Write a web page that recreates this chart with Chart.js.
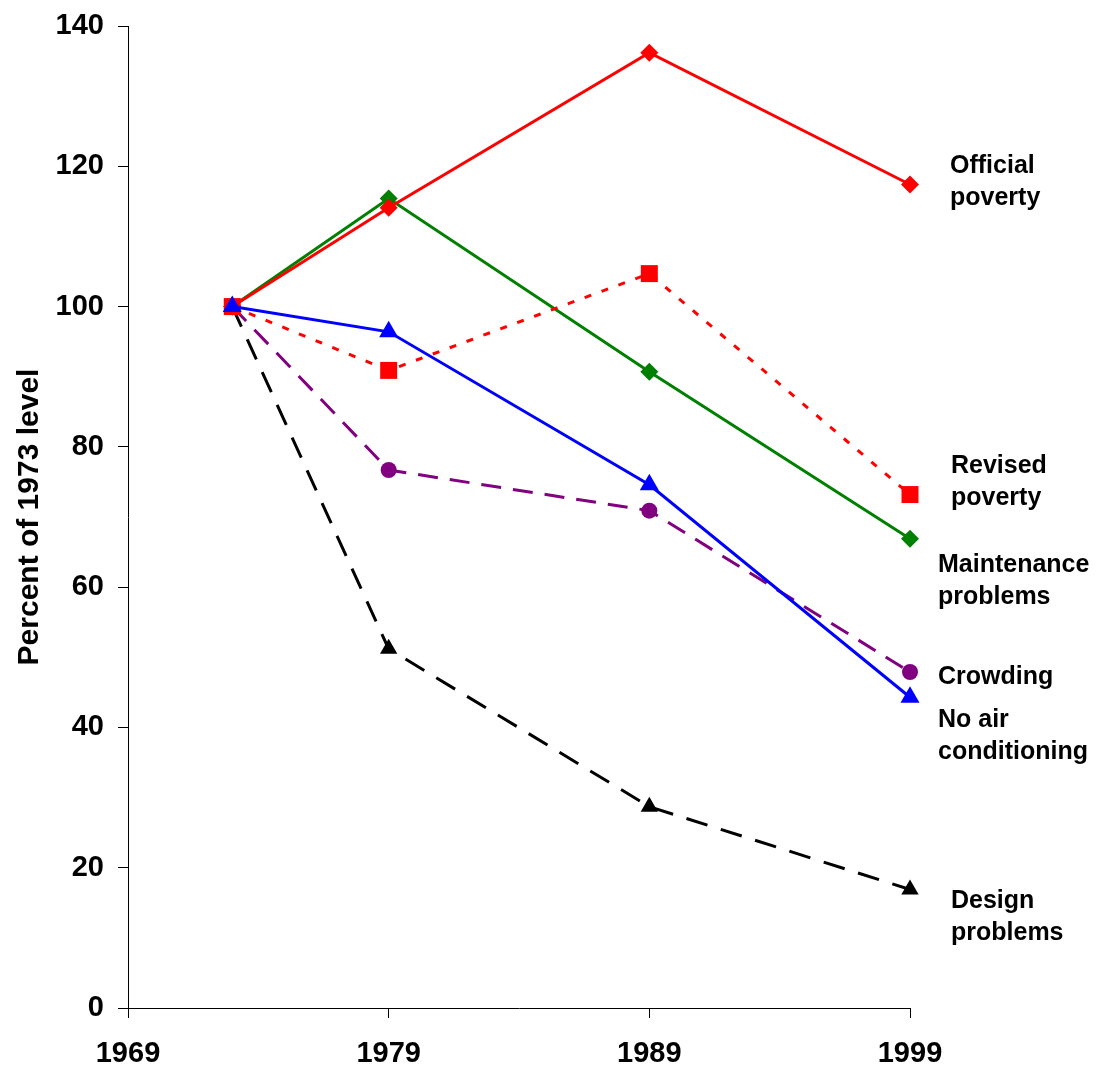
<!DOCTYPE html>
<html>
<head>
<meta charset="utf-8">
<script src="https://cdn.jsdelivr.net/npm/chart.js@4/dist/chart.umd.min.js"></script>
<style>
  html, body { margin: 0; padding: 0; background: #fff; }
  #wrap { width: 1097px; height: 1069px; position: relative; }
</style>
</head>
<body>
<div id="wrap"><canvas id="chart"></canvas></div>
<script>
const years = [1973, 1979, 1989, 1999];
const xTicks = [1969, 1979, 1989, 1999];

const officialPoverty = [100, 114.1, 136.2, 117.4];
const revisedPoverty = [100, 90.9, 104.7, 73.2];
const maintenance = [100, 115.4, 90.7, 66.9];
const crowding = [100, 76.7, 70.9, 47.9];
const noAirCond = [100, 96.4, 74.6, 44.3];
const designProblems = [100, 51.2, 28.7, 16.9];

const seriesLabels = {
  official: ["Official", "poverty"],
  revised: ["Revised", "poverty"],
  maintenance: ["Maintenance", "problems"],
  crowding: ["Crowding"],
  noAir: ["No air", "conditioning"],
  design: ["Design", "problems"],
};

const FONT = "'Liberation Sans', Arial, sans-serif";

function pts(values) {
  return values.map((v, i) => ({ x: years[i], y: v }));
}

// text next to the last point of each series: [key, datasetIndex, dx, dy]
const labelPlacement = [
  ["noAir", 0, 28, 39],
  ["official", 1, 40, -2],
  ["revised", 2, 41, -12],
  ["maintenance", 3, 28, 42],
  ["crowding", 4, 28, 5],
  ["design", 5, 41, 28],
];

const endLabels = {
  id: "endLabels",
  afterDatasetsDraw(chart) {
    const ctx = chart.ctx;
    ctx.save();
    ctx.fillStyle = "#000";
    ctx.font = `bold 25px ${FONT}`;
    ctx.textAlign = "left";
    ctx.textBaseline = "middle";
    labelPlacement.forEach(([key, di, dx, dy]) => {
      const meta = chart.getDatasetMeta(di);
      const last = meta.data[meta.data.length - 1];
      const lines = seriesLabels[key];
      const lh = 32;
      const y0 = last.y + dy - ((lines.length - 1) * lh) / 2;
      lines.forEach((t, i) => ctx.fillText(t, last.x + dx, y0 + i * lh));
    });
    ctx.restore();
  },
};

const ds = (data, color, style, radius, dash) => ({
  data: pts(data),
  borderColor: color,
  backgroundColor: color,
  borderWidth: 3,
  borderDash: dash || [],
  pointStyle: style,
  pointRadius: radius,
  pointHoverRadius: radius,
  pointBorderWidth: 0,
  tension: 0,
  fill: false,
  clip: false,
});

new Chart(document.getElementById("chart"), {
  type: "line",
  data: {
    datasets: [
      ds(noAirCond, "#0000ff", "triangle", 11),
      ds(officialPoverty, "#ff0000", "rectRot", 9),
      ds(revisedPoverty, "#ff0000", "rect", 12, [7, 11]),
      ds(maintenance, "#008000", "rectRot", 9),
      ds(crowding, "#800080", "circle", 8, [20, 12]),
      ds(designProblems, "#000000", "triangle", 10, [22, 14]),
    ],
  },
  options: {
    responsive: true,
    maintainAspectRatio: false,
    animation: false,
    layout: { padding: { top: 26, right: 187, left: 0, bottom: 0 } },
    plugins: { legend: { display: false }, tooltip: { enabled: false } },
    scales: {
      x: {
        type: "linear",
        min: 1969,
        max: 1999,
        afterBuildTicks: (s) => { s.ticks = xTicks.map((v) => ({ value: v })); },
        afterFit: (s) => { s.height = 61; s.paddingLeft = 0; s.paddingRight = 0; },
        grid: { drawOnChartArea: false, tickLength: 10, color: "#000", tickWidth: 1 },
        border: { color: "#000", width: 1 },
        ticks: {
          color: "#000",
          padding: 19,
          maxRotation: 0,
          font: { family: FONT, size: 29, weight: "bold" },
          callback: (v) => String(v),
        },
      },
      y: {
        min: 0,
        max: 140,
        afterFit: (s) => { s.width = 128; s.paddingTop = 0; s.paddingBottom = 0; },
        grid: { drawOnChartArea: false, tickLength: 10, color: "#000", tickWidth: 1 },
        border: { color: "#000", width: 1 },
        ticks: {
          stepSize: 20,
          color: "#000",
          padding: 14,
          font: { family: FONT, size: 29, weight: "bold" },
        },
        title: {
          display: true,
          text: "Percent of 1973 level",
          color: "#000",
          padding: { top: 12, bottom: 0 },
          font: { family: FONT, size: 30, weight: "bold" },
        },
      },
    },
  },
  plugins: [endLabels],
});
</script>
</body>
</html>
